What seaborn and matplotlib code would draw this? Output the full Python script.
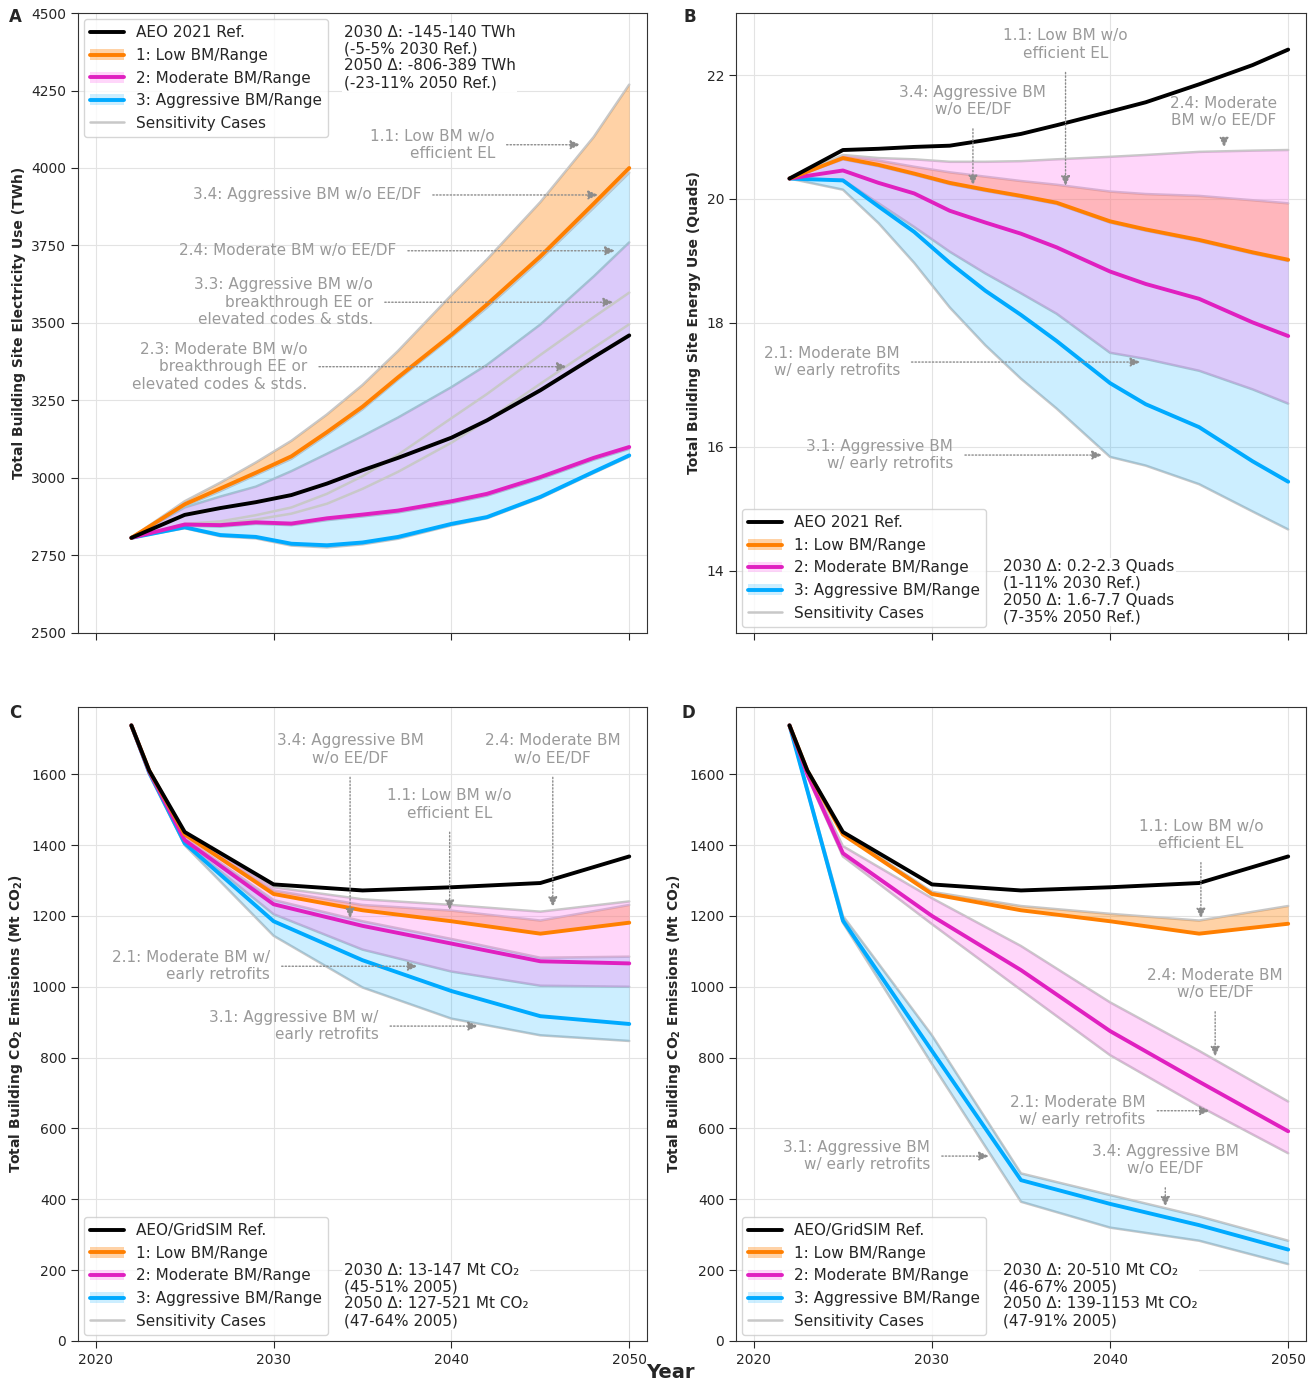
import numpy as np
import pandas as pd
import matplotlib
matplotlib.use("Agg")
import matplotlib.pyplot as plt
import seaborn as sns
from matplotlib.patches import Patch
from matplotlib.lines import Line2D

# ---- data ----
yrs_ab = [2022, 2025, 2027, 2029, 2031, 2033, 2035, 2037, 2040, 2042, 2045, 2048, 2050]
yrs_cd = [2022, 2023, 2025, 2030, 2035, 2040, 2045, 2050]

# A: site electricity (TWh)
a_ref = [2807, 2881, 2903, 2922, 2945, 2982, 3025, 3065, 3130, 3186, 3283, 3390, 3460]
a_low = [2807, 2915, 2966, 3017, 3070, 3148, 3230, 3325, 3462, 3560, 3715, 3885, 4000]
a_low_hi = [2807, 2925, 2985, 3050, 3120, 3205, 3300, 3410, 3590, 3705, 3890, 4100, 4269]
a_mod = [2807, 2850, 2848, 2857, 2853, 2870, 2882, 2895, 2925, 2949, 3003, 3065, 3100]
a_mod_hi = [2807, 2905, 2940, 2972, 3022, 3078, 3135, 3195, 3293, 3365, 3495, 3650, 3760]
a_mod_lo = [2807, 2846, 2843, 2852, 2848, 2864, 2876, 2889, 2919, 2943, 2997, 3059, 3094]
a_agg = [2807, 2841, 2816, 2810, 2788, 2783, 2792, 2810, 2852, 2874, 2939, 3020, 3073]
a_agg_hi = [2807, 2910, 2958, 3010, 3062, 3140, 3222, 3318, 3455, 3550, 3705, 3872, 3985]
a_agg_lo = [2807, 2838, 2812, 2805, 2782, 2776, 2786, 2804, 2847, 2870, 2935, 3016, 3069]
a_s33 = [2807, 2852, 2860, 2880, 2905, 2949, 3006, 3075, 3193, 3271, 3397, 3519, 3598]
a_s23 = [2807, 2850, 2853, 2866, 2885, 2917, 2965, 3020, 3114, 3186, 3304, 3420, 3496]

# B: site energy (Quads)
b_ref = [20.33, 20.79, 20.81, 20.84, 20.86, 20.95, 21.05, 21.19, 21.41, 21.56, 21.85, 22.16, 22.41]
b_low = [20.33, 20.66, 20.55, 20.41, 20.26, 20.15, 20.05, 19.94, 19.64, 19.51, 19.34, 19.14, 19.02]
b_low_hi = [20.33, 20.70, 20.62, 20.52, 20.43, 20.36, 20.29, 20.23, 20.12, 20.08, 20.05, 19.98, 19.93]
b_mod = [20.33, 20.46, 20.26, 20.09, 19.81, 19.62, 19.44, 19.22, 18.83, 18.63, 18.39, 18.01, 17.79]
b_mod_hi = [20.33, 20.71, 20.66, 20.64, 20.60, 20.60, 20.61, 20.64, 20.68, 20.71, 20.76, 20.78, 20.79]
b_mod_lo = [20.33, 20.31, 19.93, 19.55, 19.15, 18.80, 18.48, 18.15, 17.52, 17.42, 17.23, 16.93, 16.70]
b_agg = [20.33, 20.30, 19.88, 19.47, 18.97, 18.52, 18.13, 17.71, 17.03, 16.69, 16.32, 15.77, 15.44]
b_agg_hi = [20.33, 20.64, 20.53, 20.39, 20.24, 20.13, 20.03, 19.92, 19.62, 19.49, 19.32, 19.12, 19.00]
b_agg_lo = [20.33, 20.15, 19.61, 18.97, 18.25, 17.64, 17.10, 16.62, 15.84, 15.70, 15.40, 14.96, 14.67]

# C: CO2 emissions (Mt), GridSIM mid-case
c_ref = [1738, 1611, 1437, 1289, 1272, 1281, 1293, 1368]
c_low = [1738, 1611, 1430, 1262, 1216, 1185, 1150, 1181]
c_low_hi = [1738, 1611, 1435, 1272, 1231, 1215, 1187, 1231]
c_mod = [1738, 1608, 1414, 1233, 1172, 1122, 1072, 1066]
c_mod_hi = [1738, 1611, 1437, 1281, 1247, 1231, 1212, 1241]
c_mod_lo = [1738, 1605, 1408, 1205, 1105, 1043, 1003, 1000]
c_agg = [1738, 1605, 1405, 1185, 1075, 988, 917, 895]
c_agg_hi = [1738, 1608, 1420, 1245, 1185, 1135, 1082, 1085]
c_agg_lo = [1738, 1600, 1400, 1144, 998, 910, 863, 847]

# D: CO2 emissions (Mt), decarbonized grid
d_ref = [1738, 1611, 1437, 1289, 1272, 1281, 1293, 1368]
d_low = [1738, 1611, 1430, 1262, 1216, 1185, 1150, 1178]
d_low_hi = [1738, 1611, 1435, 1268, 1228, 1206, 1187, 1228]
d_mod = [1738, 1600, 1377, 1200, 1047, 875, 732, 592]
d_mod_hi = [1738, 1605, 1397, 1250, 1115, 956, 819, 676]
d_mod_lo = [1738, 1595, 1368, 1177, 991, 807, 663, 530]
d_agg = [1738, 1555, 1187, 819, 454, 387, 327, 258]
d_agg_hi = [1738, 1560, 1200, 863, 473, 412, 352, 283]
d_agg_lo = [1738, 1550, 1181, 782, 393, 320, 283, 217]

# ---- style ----
sns.set_style("ticks")
plt.rcParams.update({
    "font.family": ["DejaVu Sans"],
    "mathtext.default": "regular",
    "xtick.labelsize": 10,
    "ytick.labelsize": 10,
    "axes.edgecolor": "#333333",
})

ORANGE = "#ff7f00"
MAGENTA = "#e020c0"
BLUE = "#00aaff"
SENS = "#c8c8c8"
NOTE = "#9a9a9a"
# band fills (colour, alpha)
F_LOW = ("#ff7f00", 0.35)
F_MOD = ("#ff78f0", 0.30)
F_AGG = ("#00aaff", 0.20)

fig = plt.figure(figsize=(13.09, 13.83), dpi=100)
axA = fig.add_axes([0.0596, 0.5423, 0.4347, 0.4483])
axB = fig.add_axes([0.5623, 0.5423, 0.4354, 0.4483])
axC = fig.add_axes([0.0596, 0.0304, 0.4347, 0.4584])
axD = fig.add_axes([0.5623, 0.0304, 0.4354, 0.4584])


def draw(ax, yrs, ref, low, low_hi, mod, mod_lo, mod_hi, agg, agg_lo, agg_hi, extra=()):
    # range bounds sit under the shaded bands, other sensitivity cases on top
    for s in [low_hi, mod_hi, mod_lo, agg_hi, agg_lo]:
        ax.plot(yrs, s, color=SENS, lw=1.8, zorder=1)
    for s in extra:
        ax.plot(yrs, s, color=SENS, lw=1.8, zorder=3)
    ax.fill_between(yrs, low, low_hi, color=F_LOW[0], alpha=F_LOW[1], lw=0, zorder=2)
    ax.fill_between(yrs, agg_lo, agg_hi, color=F_AGG[0], alpha=F_AGG[1], lw=0, zorder=2)
    ax.fill_between(yrs, mod_lo, mod_hi, color=F_MOD[0], alpha=F_MOD[1], lw=0, zorder=2)
    df = pd.DataFrame({"year": yrs, "agg": agg, "mod": mod, "low": low, "ref": ref})
    for col, c in [("agg", BLUE), ("mod", MAGENTA), ("low", ORANGE), ("ref", "black")]:
        sns.lineplot(data=df, x="year", y=col, color=c, lw=2.8, ax=ax, zorder=4)
    ax.set_xlim(2019, 2051)
    ax.set_xticks([2020, 2030, 2040, 2050])
    ax.grid(True, color="#e3e3e3", lw=0.8)
    ax.set_axisbelow(True)
    ax.set_xlabel("")
    ax.tick_params(direction="out", length=5)
    for sp in ax.spines.values():
        sp.set_visible(True)
        sp.set_color("#333333")


def legend(ax, ref_label, loc):
    h = [Line2D([], [], color="black", lw=2.8)]
    for c, f in [(ORANGE, F_LOW), (MAGENTA, F_MOD), (BLUE, F_AGG)]:
        h.append((Patch(facecolor=f[0], alpha=f[1], lw=0), Line2D([], [], color=c, lw=2.8)))
    h.append(Line2D([], [], color=SENS, lw=1.8))
    labels = [ref_label, "1: Low BM/Range", "2: Moderate BM/Range",
              "3: Aggressive BM/Range", "Sensitivity Cases"]
    ax.legend(h, labels, loc=loc, fontsize=11, handlelength=2.2, borderaxespad=0.4)


def note(ax, text, xy, xytext, ha):
    ax.annotate(text, xy=xy, xytext=xytext, ha=ha, va="center", fontsize=11,
                color=NOTE, zorder=6,
                arrowprops=dict(arrowstyle="-|>,head_length=0.55,head_width=0.25",
                                color="#8c8c8c", lw=1, linestyle=(0, (1, 1.5)),
                                shrinkA=6, shrinkB=0))


def delta(ax, text, x, y, va):
    ax.text(x, y, text, transform=ax.transAxes, ha="left", va=va, fontsize=11,
            linespacing=1.15, zorder=7,
            bbox=dict(facecolor="white", edgecolor="none", pad=1))


# A
draw(axA, yrs_ab, a_ref, a_low, a_low_hi, a_mod, a_mod_lo, a_mod_hi,
     a_agg, a_agg_lo, a_agg_hi, extra=[a_s33, a_s23])
axA.set_ylim(2500, 4500)
axA.set_yticks(np.arange(2500, 4501, 250))
axA.set_xticklabels([])
axA.set_ylabel("Total Building Site Electricity Use (TWh)", fontsize=10, fontweight="bold")
legend(axA, "AEO 2021 Ref.", "upper left")
delta(axA, "2030 Δ: -145-140 TWh\n(-5-5% 2030 Ref.)\n2050 Δ: -806-389 TWh\n(-23-11% 2050 Ref.)",
      0.467, 0.981, "top")
note(axA, "1.1: Low BM w/o\nefficient EL", (2047.25, 4075), (2042.45, 4075), "right")
note(axA, "3.4: Aggressive BM w/o EE/DF", (2048.25, 3913), (2038.3, 3913), "right")
note(axA, "2.4: Moderate BM w/o EE/DF", (2049.2, 3733), (2036.9, 3733), "right")
note(axA, "3.3: Aggressive BM w/o\nbreakthrough EE or\nelevated codes & stds.",
     (2049.1, 3567), (2035.6, 3567), "right")
note(axA, "2.3: Moderate BM w/o\nbreakthrough EE or\nelevated codes & stds.",
     (2046.5, 3359), (2031.9, 3359), "right")

# B
draw(axB, yrs_ab, b_ref, b_low, b_low_hi, b_mod, b_mod_lo, b_mod_hi,
     b_agg, b_agg_lo, b_agg_hi)
axB.set_ylim(13, 23)
axB.set_yticks([14, 16, 18, 20, 22])
axB.set_xticklabels([])
axB.set_ylabel("Total Building Site Energy Use (Quads)", fontsize=10, fontweight="bold")
legend(axB, "AEO 2021 Ref.", "lower left")
delta(axB, "2030 Δ: 0.2-2.3 Quads\n(1-11% 2030 Ref.)\n2050 Δ: 1.6-7.7 Quads\n(7-35% 2050 Ref.)",
      0.468, 0.014, "bottom")
note(axB, "1.1: Low BM w/o\nefficient EL", (2037.5, 20.21), (2037.5, 22.49), "center")
note(axB, "3.4: Aggressive BM\nw/o EE/DF", (2032.3, 20.22), (2032.3, 21.58), "center")
note(axB, "2.4: Moderate\nBM w/o EE/DF", (2046.4, 20.83), (2046.4, 21.40), "center")
note(axB, "2.1: Moderate BM\nw/ early retrofits", (2041.7, 17.37), (2028.2, 17.37), "right")
note(axB, "3.1: Aggressive BM\nw/ early retrofits", (2039.55, 15.87), (2031.2, 15.87), "right")

# C
draw(axC, yrs_cd, c_ref, c_low, c_low_hi, c_mod, c_mod_lo, c_mod_hi,
     c_agg, c_agg_lo, c_agg_hi)
axC.set_ylim(0, 1790)
axC.set_yticks(np.arange(0, 1601, 200))
axC.set_ylabel("Total Building CO$_2$ Emissions (Mt CO$_2$)", fontsize=10, fontweight="bold")
legend(axC, "AEO/GridSIM Ref.", "lower left")
delta(axC, "2030 Δ: 13-147 Mt CO₂\n(45-51% 2005)\n2050 Δ: 127-521 Mt CO₂\n(47-64% 2005)",
      0.467, 0.02, "bottom")
note(axC, "3.4: Aggressive BM\nw/o EE/DF", (2034.3, 1193), (2034.3, 1670), "center")
note(axC, "2.4: Moderate BM\nw/o EE/DF", (2045.7, 1225), (2045.7, 1670), "center")
note(axC, "1.1: Low BM w/o\nefficient EL", (2039.9, 1216), (2039.9, 1515), "center")
note(axC, "2.1: Moderate BM w/\nearly retrofits", (2038.1, 1058), (2029.8, 1058), "right")
note(axC, "3.1: Aggressive BM w/\nearly retrofits", (2041.5, 889), (2035.9, 889), "right")

# D
draw(axD, yrs_cd, d_ref, d_low, d_low_hi, d_mod, d_mod_lo, d_mod_hi,
     d_agg, d_agg_lo, d_agg_hi)
axD.set_ylim(0, 1790)
axD.set_yticks(np.arange(0, 1601, 200))
axD.set_ylabel("Total Building CO$_2$ Emissions (Mt CO$_2$)", fontsize=10, fontweight="bold")
legend(axD, "AEO/GridSIM Ref.", "lower left")
delta(axD, "2030 Δ: 20-510 Mt CO₂\n(46-67% 2005)\n2050 Δ: 139-1153 Mt CO₂\n(47-91% 2005)",
      0.468, 0.02, "bottom")
note(axD, "1.1: Low BM w/o\nefficient EL", (2045.1, 1193), (2045.1, 1429), "center")
note(axD, "2.4: Moderate BM\nw/o EE/DF", (2045.9, 803), (2045.9, 1008), "center")
note(axD, "2.1: Moderate BM\nw/ early retrofits", (2045.6, 650), (2042.0, 650), "right")
note(axD, "3.1: Aggressive BM\nw/ early retrofits", (2033.2, 522), (2029.9, 522), "right")
note(axD, "3.4: Aggressive BM\nw/o EE/DF", (2043.1, 379), (2043.1, 511), "center")

for lbl, x, y in [("A", 15, 17), ("B", 690, 17), ("C", 15, 713), ("D", 688, 713)]:
    fig.text(x / 1309, 1 - y / 1383, lbl, ha="center", va="center",
             fontsize=12, fontweight="bold")
fig.text(670 / 1309, 1 - 1373 / 1383, "Year", ha="center", va="center",
         fontsize=14, fontweight="bold")

fig.savefig("out.png", dpi=100)
